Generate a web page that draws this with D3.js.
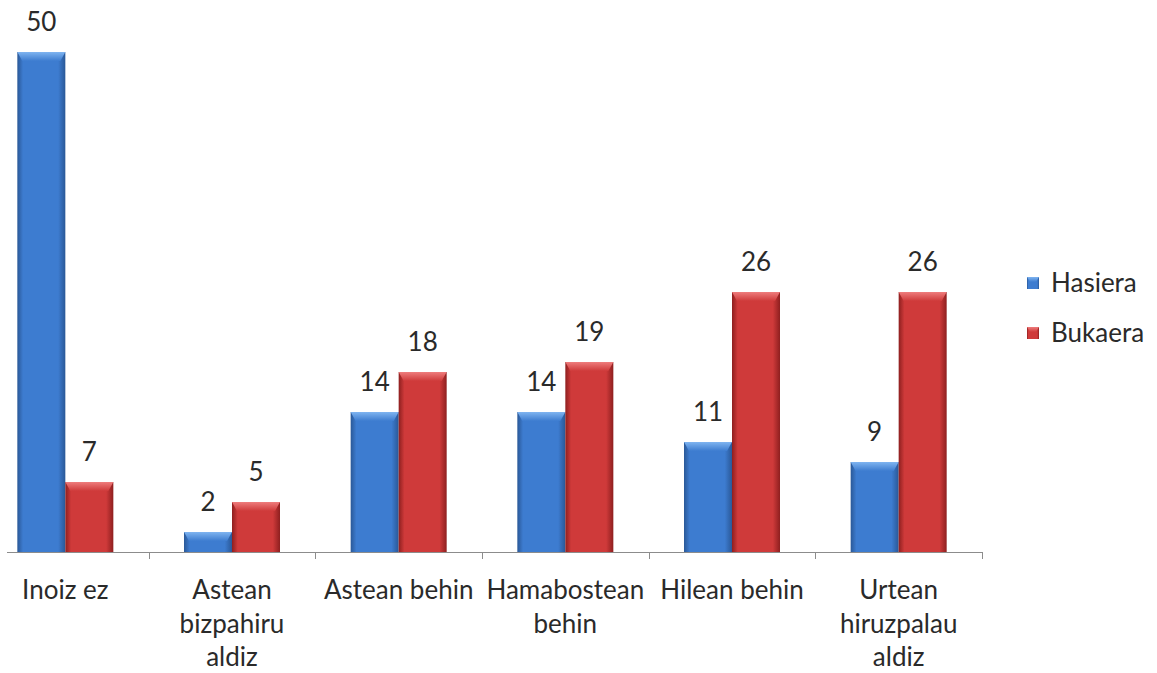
<!DOCTYPE html>
<html>
<head>
<meta charset="utf-8">
<script src="https://cdn.jsdelivr.net/npm/d3@7"></script>
<style>
  body { margin: 0; background: #fff; }
  text { font-family: Lato, "Open Sans", sans-serif; fill: #2a2a2a; }
</style>
</head>
<body>
<svg id="chart"></svg>
<script>
// data
let categories = ['Inoiz ez', 'Astean\nbizpahiru\naldiz', 'Astean behin', 'Hamabostean\nbehin', 'Hilean behin', 'Urtean\nhiruzpalau\naldiz'];
let seriesNames = ['Hasiera', 'Bukaera'];
let hasiera = [50, 2, 14, 14, 11, 9];
let bukaera = [7, 5, 18, 19, 26, 26];

let width = 1157;
let height = 673;
let config = {
    left: -18,
    right: 982,
    axisStart: 7,
    top: 52,
    baseline: 552,
    barWidth: 48,
    fontSize: '26px'
};

let svg = d3.select('#chart')
    .attr('width', width)
    .attr('height', height);

let colors = {
    Hasiera: {edge: '#2a5897', main: '#3d7cd0', light: '#7fb4f0'},
    Bukaera: {edge: '#8e1f1f', main: '#cf3a3a', light: '#ee7c7c'}
};

let defs = svg.append('defs');
seriesNames.forEach(s => {
    let g = defs.append('linearGradient')
        .attr('id', 'side-' + s)
        .attr('x1', '0%').attr('x2', '100%').attr('y1', '0%').attr('y2', '0%');
    g.append('stop').attr('offset', '0%').attr('stop-color', colors[s].edge);
    g.append('stop').attr('offset', '12%').attr('stop-color', colors[s].main);
    g.append('stop').attr('offset', '85%').attr('stop-color', colors[s].main);
    g.append('stop').attr('offset', '100%').attr('stop-color', colors[s].edge);
    let t = defs.append('linearGradient')
        .attr('id', 'top-' + s)
        .attr('x1', '0%').attr('x2', '0%').attr('y1', '0%').attr('y2', '100%');
    t.append('stop').attr('offset', '0%').attr('stop-color', colors[s].light);
    t.append('stop').attr('offset', '100%').attr('stop-color', colors[s].main);
});

let x = d3.scaleBand()
    .domain(categories)
    .range([config.left, config.right])
    .padding(0);

let groupWidth = config.barWidth * seriesNames.length;
let xSub = d3.scaleBand()
    .domain(seriesNames)
    .range([(x.bandwidth() - groupWidth) / 2, (x.bandwidth() + groupWidth) / 2]);

let y = d3.scaleLinear()
    .domain([0, 50])
    .range([config.baseline, config.top]);

let rows = [];
categories.forEach((c, i) => {
    rows.push({cat: c, series: 'Hasiera', value: hasiera[i]});
    rows.push({cat: c, series: 'Bukaera', value: bukaera[i]});
});

// bars
let bars = svg.append('g').selectAll('g.bar')
    .data(rows)
    .join('g')
    .attr('class', 'bar')
    .attr('transform', d => `translate(${x(d.cat) + xSub(d.series)},0)`);

bars.append('rect')
    .attr('x', 0)
    .attr('y', d => y(d.value))
    .attr('width', xSub.bandwidth())
    .attr('height', d => y(0) - y(d.value))
    .attr('fill', d => `url(#side-${d.series})`);

bars.append('path')
    .attr('d', d => {
        let w = xSub.bandwidth();
        let t = y(d.value);
        let h = Math.min(9, (y(0) - t) / 2);
        return `M0,${t}L${w},${t}L${w - 5},${t + h}L5,${t + h}Z`;
    })
    .attr('fill', d => `url(#top-${d.series})`);

bars.append('text')
    .attr('x', xSub.bandwidth() / 2)
    .attr('y', d => y(d.value) - 21)
    .attr('text-anchor', 'middle')
    .style('font-size', config.fontSize)
    .text(d => d.value);

// axis
let axis = svg.append('g');
axis.append('line')
    .attr('x1', config.axisStart)
    .attr('x2', config.right)
    .attr('y1', y(0) + 0.5)
    .attr('y2', y(0) + 0.5)
    .attr('stroke', '#8c8c8c')
    .attr('stroke-width', 1.2);
axis.selectAll('line.tick')
    .data(categories)
    .join('line')
    .attr('class', 'tick')
    .attr('x1', d => Math.round(x(d) + x.bandwidth()) + 0.5)
    .attr('x2', d => Math.round(x(d) + x.bandwidth()) + 0.5)
    .attr('y1', y(0))
    .attr('y2', y(0) + 7)
    .attr('stroke', '#8c8c8c');

let labels = axis.selectAll('text.cat')
    .data(categories)
    .join('text')
    .attr('class', 'cat')
    .attr('text-anchor', 'middle')
    .style('font-size', config.fontSize);
labels.each(function (d) {
    let lines = d.split('\n');
    d3.select(this).selectAll('tspan')
        .data(lines)
        .join('tspan')
        .attr('x', x(d) + x.bandwidth() / 2)
        .attr('y', (l, i) => 599 + i * 33.5)
        .text(l => l);
});

// legend
let legend = svg.append('g')
    .attr('transform', 'translate(1027,277)');
let item = legend.selectAll('g')
    .data(seriesNames)
    .join('g')
    .attr('transform', (d, i) => `translate(0,${i * 50})`);
item.append('rect')
    .attr('width', 12)
    .attr('height', 12)
    .attr('fill', d => `url(#side-${d})`);
item.append('path')
    .attr('d', 'M0,0L12,0L9,5L3,5Z')
    .attr('fill', d => `url(#top-${d})`);
item.append('text')
    .attr('x', 24)
    .attr('y', 15)
    .style('font-size', config.fontSize)
    .text(d => d);
</script>
</body>
</html>
